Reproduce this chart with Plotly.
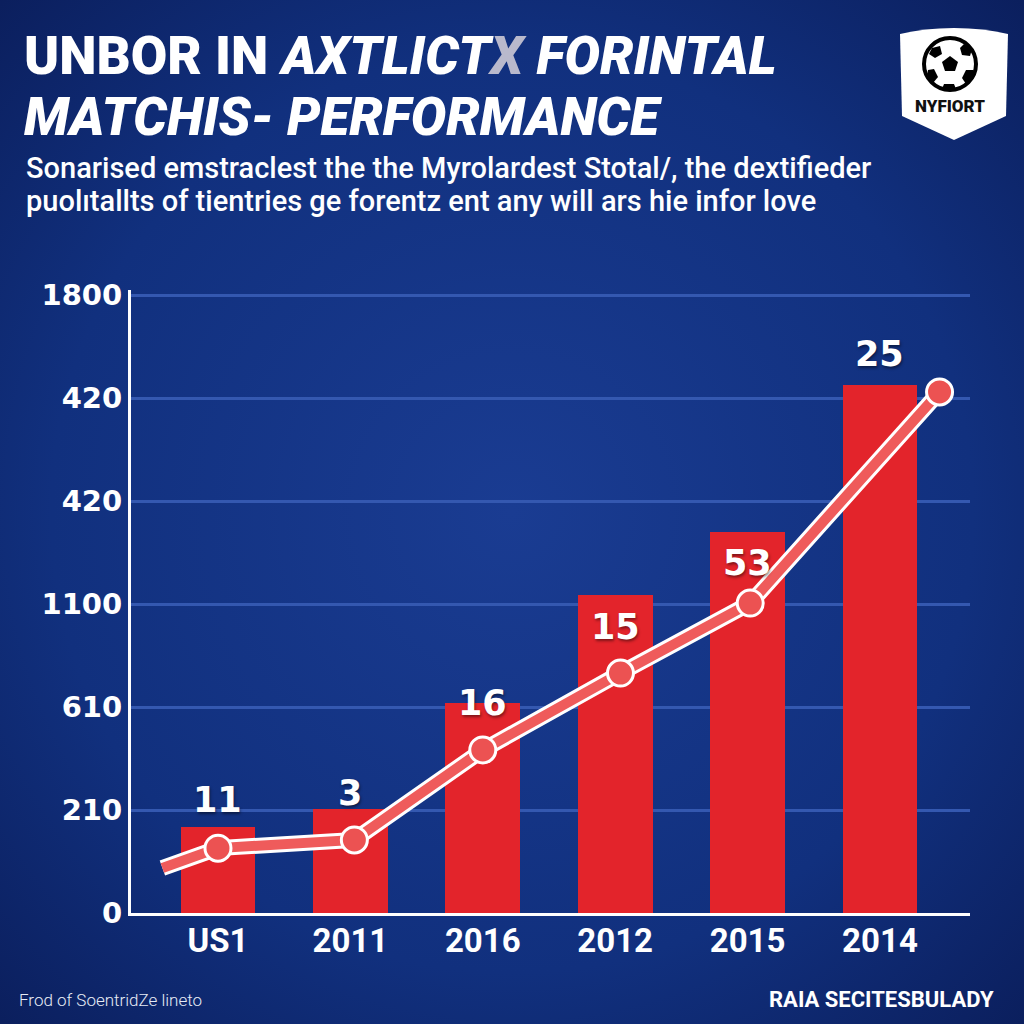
import plotly.graph_objects as go
import urllib.parse

# ---------------- data ----------------
categories = ["US1", "2011", "2016", "2012", "2015", "2014"]
bar_values = [250, 303, 612, 926, 1110, 1538]
bar_labels = ["11", "3", "16", "15", "53", "25"]
label_shift = [27, 16, 0, -32, -31, 31]

line_x = [-0.42, 0, 1.03, 2.0, 3.04, 4.02, 5.45]
line_y = [131, 189, 213, 475, 699, 903, 1518]
line_marker = [False, True, True, True, True, True, True]

y_tickvals = [0, 300, 600, 900, 1200, 1500, 1800]
y_ticktext = ["0", "210", "610", "1100", "420", "420", "1800"]

title_line1 = "UNBOR IN <i>AXTLICT<span style='color:#b9b9cc'>X</span> FORINTAL</i>"
title_line2 = "<i>MATCHIS- PERFORMANCE</i>"
subtitle1 = "Sonarised emstraclest the the Myrolardest Stotal/, the dextifieder"
subtitle2 = "puolıtallts of tientries ge forentz ent any will ars hie infor love"
footer_left = "Frod of SoentridZe lineto"
footer_right = "RAIA SECITESBULADY"
logo_text = "NYFIORT"

# ---------------- layout geometry (pixels) ----------------
W, H = 1024, 1024
L, R, T, B = 131, 54, 290, 111
PW, PH = W - L - R, H - T - B


def px(x):
    return (x - L) / PW


def py(y):
    return (H - B - y) / PH


fig = go.Figure()

fig.add_trace(go.Bar(
    x=list(range(len(categories))), y=bar_values, width=0.566,
    marker=dict(color="#e3242b", line=dict(width=0)), showlegend=False,
    hoverinfo="skip"))

fig.add_trace(go.Scatter(
    x=line_x, y=line_y, mode="lines",
    line=dict(color="white", width=16), showlegend=False, hoverinfo="skip"))
fig.add_trace(go.Scatter(
    x=line_x, y=line_y, mode="lines",
    line=dict(color="#ef5b5b", width=10), showlegend=False, hoverinfo="skip"))
mx = [x for x, m in zip(line_x, line_marker) if m]
my = [y for y, m in zip(line_y, line_marker) if m]
fig.add_trace(go.Scatter(
    x=mx, y=my, mode="markers",
    marker=dict(size=26, color="#ec5252", line=dict(color="white", width=3)),
    showlegend=False, hoverinfo="skip"))

annotations = []
for i, (v, t, s) in enumerate(zip(bar_values, bar_labels, label_shift)):
    annotations.append(dict(
        x=i, y=v, xref="x", yref="y", text=t, showarrow=False, yshift=s,
        yanchor="middle",
        font=dict(family="DejaVu Sans", size=35, color="white", weight="bold",
                  shadow="1px 2px 3px rgba(0,0,0,0.45)")))

big = "<span style='font-size:53px'>{}</span>"
title_text = big.format(title_line1) + "<br>" + big.format(title_line2)
annotations += [
    dict(x=px(22), y=py(86), xref="paper", yref="paper", text=title_text,
         showarrow=False, xanchor="left", yanchor="middle", align="left",
         font=dict(family="Roboto", size=47, color="white", weight=900)),
    dict(x=px(24), y=py(168), xref="paper", yref="paper", text=subtitle1,
         showarrow=False, xanchor="left", yanchor="middle",
         font=dict(family="Roboto", size=29, color="white", weight=500)),
    dict(x=px(24), y=py(201), xref="paper", yref="paper", text=subtitle2,
         showarrow=False, xanchor="left", yanchor="middle",
         font=dict(family="Roboto", size=29, color="white", weight=500)),
    dict(x=px(17), y=py(1000), xref="paper", yref="paper", text=footer_left,
         showarrow=False, xanchor="left", yanchor="middle",
         font=dict(family="Roboto", size=17, color="#e6ebf5", weight=300)),
    dict(x=px(996), y=py(999), xref="paper", yref="paper", text=footer_right,
         showarrow=False, xanchor="right", yanchor="middle",
         font=dict(family="Roboto", size=22, color="white", weight="bold")),
    dict(x=px(950), y=py(106), xref="paper", yref="paper", text=logo_text,
         showarrow=False, xanchor="center", yanchor="middle",
         font=dict(family="Roboto", size=17, color="#111111", weight=900)),
]

# background radial gradient
bg_svg = (
    "<svg xmlns='http://www.w3.org/2000/svg' width='1024' height='1024'>"
    "<defs><radialGradient id='g' cx='0.5' cy='0.5' r='0.75'>"
    "<stop offset='0' stop-color='#1a3c92'/>"
    "<stop offset='0.6' stop-color='#11307e'/>"
    "<stop offset='1' stop-color='#0a1c58'/>"
    "</radialGradient></defs>"
    "<rect width='1024' height='1024' fill='url(#g)'/></svg>")
bg_src = "data:image/svg+xml;charset=utf-8," + urllib.parse.quote(bg_svg)

# logo shield with ball
logo_svg = (
    "<svg xmlns='http://www.w3.org/2000/svg' width='120' height='120' viewBox='0 0 120 120'>"
    "<path d='M6 10 Q30 4 60 4 Q90 4 114 10 L112 92 L60 116 L8 92 Z' fill='white'/>"
    "<circle cx='56' cy='40' r='26' fill='white' stroke='black' stroke-width='4'/>"
    "<polygon points='56,32 64,38 61,47 51,47 48,38' fill='black'/>"
    "<polygon points='38,24 46,22 48,30 41,34 35,30' fill='black'/>"
    "<polygon points='70,20 78,25 76,32 68,31 66,24' fill='black'/>"
    "<polygon points='34,46 40,45 44,53 39,59 33,54' fill='black'/>"
    "<polygon points='72,46 79,46 79,55 72,60 68,54' fill='black'/>"
    "<polygon points='50,60 60,60 62,65 48,65' fill='black'/>"
    "</svg>")
logo_src = "data:image/svg+xml;charset=utf-8," + urllib.parse.quote(logo_svg)

images = [
    dict(source=bg_src, xref="paper", yref="paper", x=px(0), y=py(0),
         sizex=W / PW, sizey=H / PH, xanchor="left", yanchor="top",
         sizing="stretch", layer="below"),
    dict(source=logo_src, xref="paper", yref="paper", x=px(894), y=py(24),
         sizex=120 / PW, sizey=120 / PH, xanchor="left", yanchor="top",
         sizing="stretch", layer="above"),
]

fig.update_layout(
    width=W, height=H,
    margin=dict(l=L, r=R, t=T, b=B, pad=0),
    paper_bgcolor="#0f2a74", plot_bgcolor="rgba(0,0,0,0)",
    annotations=annotations, images=images,
    bargap=0,
    xaxis=dict(
        range=[-0.657, 5.68], tickvals=list(range(len(categories))),
        ticktext=categories, showgrid=False, zeroline=False,
        showline=True, linecolor="white", linewidth=3,
        ticks="", ticklabelstandoff=-4,
        tickfont=dict(family="Roboto", size=33, color="white", weight="bold")),
    yaxis=dict(
        range=[0, 1815], tickvals=y_tickvals, ticktext=y_ticktext,
        showgrid=True, gridcolor="#3458b0", gridwidth=3, zeroline=False,
        showline=True, linecolor="white", linewidth=3, ticks="",
        ticklabelstandoff=0,
        tickfont=dict(family="DejaVu Sans", size=29, color="white", weight="bold")),
)

fig.write_html("out.html")
